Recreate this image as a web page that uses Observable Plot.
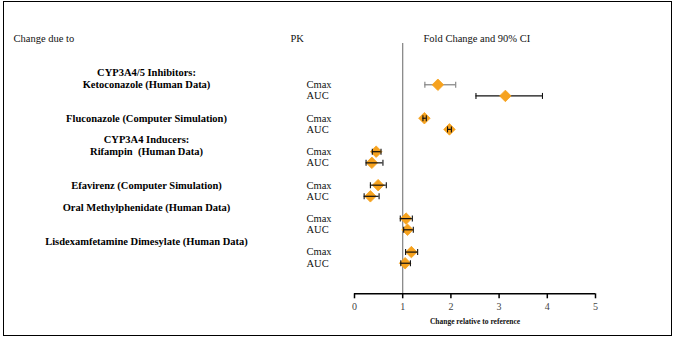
<!DOCTYPE html>
<html>
<head>
<meta charset="utf-8">
<script src="https://cdn.jsdelivr.net/npm/d3@7"></script>
<script src="https://cdn.jsdelivr.net/npm/@observablehq/plot@0.6"></script>
<style>
  html, body { margin: 0; padding: 0; background: #fff; }
  #wrap { position: relative; width: 675px; height: 341px; }
  #border { position: absolute; left: 3px; top: 1px; width: 669px; height: 335px; box-sizing: border-box; border: 1.5px solid #000; pointer-events: none; }
  svg { display: block; }
</style>
</head>
<body>
<div id="wrap"><div id="border"></div></div>
<script>
// ---- data ----
const groups = [
  "Ketoconazole (Human Data)",
  "Fluconazole (Computer Simulation)",
  "Rifampin  (Human Data)",
  "Efavirenz (Computer Simulation)",
  "Oral Methylphenidate (Human Data)",
  "Lisdexamfetamine Dimesylate (Human Data)"
];
const headers = ["CYP3A4/5 Inhibitors:", "CYP3A4 Inducers:"];
const headerGroup = [0, 2];
const pkLabels = ["Cmax", "AUC"];
const estimate = [[1.73, 3.13], [1.45, 1.97], [0.45, 0.36], [0.49, 0.33], [1.07, 1.10], [1.18, 1.05]];
const lower    = [[1.46, 2.52], [1.42, 1.93], [0.37, 0.24], [0.33, 0.20], [0.95, 1.02], [1.06, 0.96]];
const upper    = [[2.10, 3.90], [1.49, 2.01], [0.55, 0.59], [0.66, 0.51], [1.20, 1.22], [1.31, 1.16]];
const xTicks = [0, 1, 2, 3, 4, 5];
const columnTitles = ["Change due to", "PK", "Fold Change and 90% CI"];
const xTitle = "Change relative to reference";

// ---- build rows ----
const rows = [];
groups.forEach((g, gi) => pkLabels.forEach((pk, k) => rows.push({
  group: gi, pk, y: 3 * gi + k, est: estimate[gi][k], lo: lower[gi][k], hi: upper[gi][k]
})));
const labelLift = [0, 0, 0, 0, 1, 1]; // lines the label sits above its Cmax row
const groupRows = groups.map((name, gi) => ({name, gi, y: 3 * gi, lift: labelLift[gi]}));
const headerRows = headers.map((h, i) => ({name: h, y: 3 * headerGroup[i]}));

const yDomain = [-3.7, 18.74];
const font = "'Liberation Serif', 'Times New Roman', serif";
const capSymbol = {draw(ctx, size) { const h = Math.sqrt(size / Math.PI); ctx.moveTo(0, -h); ctx.lineTo(0, h); }};
const barColor = d => (d.group === 0 && d.pk === "Cmax") ? "#808080" : "#111";
const labelStyle = {y: "y", text: "name", frameAnchor: "left", dx: -208, textAnchor: "middle",
  fontWeight: "bold", fontSize: 10.5, fill: "#000", fontFamily: font};

const chart = Plot.plot({
  width: 675,
  height: 341,
  marginLeft: 354,
  marginRight: 80,
  marginTop: 43,
  marginBottom: 47.7,
  style: {fontFamily: font, fontSize: "10px", background: "transparent"},
  x: {domain: [0, 5]},
  y: {domain: yDomain, reverse: true, axis: null},
  marks: [
    Plot.ruleX([1], {stroke: "#808080", strokeWidth: 1.2}),
    Plot.ruleY([yDomain[1]], {stroke: "#000", strokeWidth: 1.5}),
    Plot.axisX({anchor: "bottom", ticks: xTicks, tickSize: 5, tickPadding: 4, tickFormat: d3.format("d"),
      fontSize: 10, label: null, stroke: "#000", strokeWidth: 1.5, fill: "#444", fontFamily: font}),
    // error bars under diamonds for first group
    Plot.ruleY(rows.filter(d => d.group === 0), {y: "y", x1: "lo", x2: "hi", stroke: barColor, strokeWidth: 1.2}),
    Plot.dot(rows, {x: "est", y: "y", symbol: "diamond2", r: 5.2, fill: "#F6A21E", stroke: "#F6A21E", strokeWidth: 0.8}),
    Plot.ruleY(rows.filter(d => d.group !== 0), {y: "y", x1: "lo", x2: "hi", stroke: barColor, strokeWidth: 1.2}),
    Plot.dot(rows, {x: "lo", y: "y", symbol: capSymbol, r: 3, fill: "none", stroke: barColor, strokeWidth: 1.1}),
    Plot.dot(rows, {x: "hi", y: "y", symbol: capSymbol, r: 3, fill: "none", stroke: barColor, strokeWidth: 1.1}),
    // PK labels
    Plot.text(rows, {y: "y", text: "pk", frameAnchor: "left", dx: -48, textAnchor: "start", fontSize: 10.5, fill: "#111", fontFamily: font}),
    // group labels
    Plot.text(groupRows.filter(d => d.lift === 0), {...labelStyle, dy: 0}),
    Plot.text(groupRows.filter(d => d.lift === 1), {...labelStyle, dy: -10.5}),
    Plot.text(headerRows, {...labelStyle, dy: -12.5}),
    // column titles
    Plot.text([columnTitles[0]], {text: d => d, frameAnchor: "top-left", dx: -341, dy: -9, textAnchor: "start", fontSize: 10.5, fontFamily: font, fill: "#111"}),
    Plot.text([columnTitles[1]], {text: d => d, frameAnchor: "top-left", dx: -64, dy: -9, textAnchor: "start", fontSize: 10.5, fontFamily: font, fill: "#111"}),
    Plot.text([columnTitles[2]], {text: d => d, frameAnchor: "top-left", dx: 69, dy: -9, textAnchor: "start", fontSize: 10.5, fontFamily: font, fill: "#111"}),
    // x title
    Plot.text([xTitle], {text: d => d, frameAnchor: "bottom", dy: 30, fontSize: 7.5, fontWeight: "bold", fontFamily: font, fill: "#111"})
  ]
});
document.getElementById("wrap").prepend(chart);
</script>
</body>
</html>
